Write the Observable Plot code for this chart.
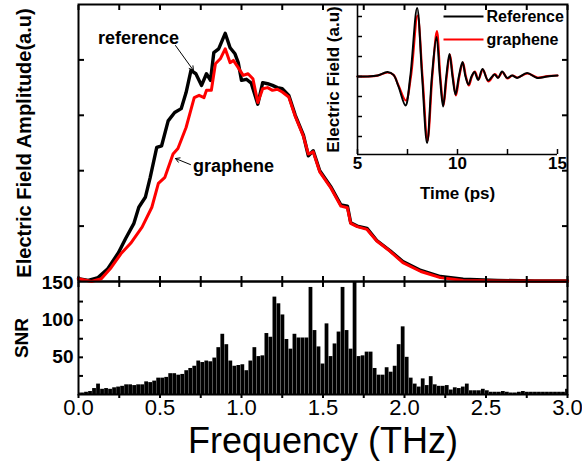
<!DOCTYPE html>
<html><head><meta charset="utf-8">
<script src="https://cdn.jsdelivr.net/npm/d3@7"></script>
<script src="https://cdn.jsdelivr.net/npm/@observablehq/plot@0.6"></script>
<style>
body{margin:0;background:#fff;}
#wrap{position:relative;width:582px;height:465px;overflow:hidden;background:#fff;}
#wrap svg{position:absolute;overflow:visible;}
</style></head><body><div id="wrap"></div>
<script>
// ---- Spectrum (main panel) ----
const refFreq = [0, 0.06, 0.12, 0.18, 0.245, 0.29, 0.34, 0.37, 0.41, 0.44, 0.48, 0.51, 0.55, 0.59, 0.63, 0.66, 0.69, 0.72, 0.755, 0.785, 0.81, 0.83, 0.86, 0.90, 0.93, 0.96, 0.98, 1.0, 1.03, 1.06, 1.10, 1.13, 1.16, 1.19, 1.22, 1.25, 1.29, 1.33, 1.38, 1.41, 1.44, 1.48, 1.55, 1.61, 1.65, 1.67, 1.71, 1.77, 1.83, 1.91, 1.99, 2.10, 2.22, 2.36, 2.57, 2.8, 3.0];
const refAmp = [0.05, 0.02, 0.07, 0.23, 0.52, 0.78, 1.05, 1.34, 1.52, 1.88, 2.42, 2.45, 2.9, 3.05, 3.12, 3.41, 3.81, 3.75, 3.54, 3.75, 3.63, 4.13, 4.2, 4.48, 4.22, 4.11, 3.95, 3.63, 3.65, 3.58, 3.2, 3.59, 3.57, 3.54, 3.5, 3.48, 3.36, 3.0, 2.64, 2.27, 2.36, 2.0, 1.7, 1.38, 1.36, 1.06, 1.0, 0.96, 0.74, 0.56, 0.36, 0.2, 0.09, 0.04, 0.02, 0.01, 0.01];
const grFreq = [0, 0.08, 0.14, 0.20, 0.26, 0.32, 0.39, 0.45, 0.49, 0.53, 0.58, 0.61, 0.66, 0.71, 0.74, 0.77, 0.785, 0.815, 0.84, 0.87, 0.90, 0.93, 0.95, 0.98, 1.01, 1.04, 1.07, 1.10, 1.13, 1.16, 1.19, 1.22, 1.25, 1.29, 1.33, 1.38, 1.41, 1.44, 1.48, 1.55, 1.61, 1.65, 1.67, 1.71, 1.77, 1.83, 1.91, 1.99, 2.10, 2.22, 2.36, 2.57, 2.8, 3.0];
const grAmp = [0.05, 0.0, 0.05, 0.25, 0.5, 0.69, 0.98, 1.34, 1.77, 1.88, 2.3, 2.4, 2.78, 3.32, 3.36, 3.32, 3.45, 3.45, 3.93, 4.02, 4.2, 3.95, 3.99, 3.86, 3.72, 3.75, 3.66, 3.23, 3.48, 3.5, 3.45, 3.47, 3.42, 3.33, 2.98, 2.62, 2.3, 2.34, 1.98, 1.68, 1.36, 1.33, 1.05, 0.99, 0.94, 0.73, 0.55, 0.34, 0.18, 0.07, 0.02, 0.01, 0.01, 0.01];

// annotations (label, text position, arrow start, arrow end) in data units
const annLabels = ["reference", "graphene"];
const annTextF = [0.368, 0.951];
const annTextA = [4.40, 2.08];
const annFromF = [0.595, 0.687];
const annFromA = [4.26, 2.11];
const annToF = [0.705, 0.595];
const annToA = [3.81, 2.22];

// ---- SNR (bottom panel) ----
const snrValues = [2,2,3,4,8,14,7,8,7,9, 10,11,13,13,12,13,13,17,16,18, 22,22,23,28,28,26,27,32,35,38, 45,43,45,44,49,63,81,67,45,38, 39,40,32,45,63,51,52,82,77,131, 122,107,74,61,81,76,76,76,144,86, 64,41,95,51,68,84,144,86,61,155, 51,52,57,57,35,26,26,36,30,38, 67,91,50,22,14,10,21,12,24,13, 11,11,12,6,9,8,10,14,5,5, 5,7,5,3,3,3,4,3,2,2, 3,4,3,3,3,3,3,3,3,3, 3,3,7];
const snrStep = 3 / 122; // frequency spacing of the bins (THz)

// ---- Time-domain inset ----
const refT = [5.0,5.5,6.0,6.5,6.8,7.05,7.4,7.64,7.98,8.23,8.48,8.72,8.95,9.12,9.28,9.44,9.6,9.75,9.9,10.07,10.25,10.4,10.55,10.7,10.85,11.03,11.25,11.53,11.85,12.02,12.23,12.48,12.73,12.98,13.48,13.98,14.48,15.0];
const refE = [0,0,0.05,0.22,0.08,-0.5,-1.45,0,3.43,0,-3.33,0,1.97,0,-1.5,0,1.13,0,-0.9,0,0.72,0,-0.4,0,0.22,-0.17,0.38,-0.2,0.1,-0.07,0.25,-0.07,0.05,-0.07,0.17,-0.07,0,0.05];
const grT = [5.0,5.5,6.0,6.5,6.8,7.05,7.42,7.67,8.0,8.25,8.5,8.74,8.97,9.14,9.3,9.46,9.62,9.77,9.92,10.09,10.27,10.42,10.57,10.72,10.87,11.05,11.27,11.55,11.87,12.04,12.25,12.5,12.75,13.0,13.5,14.0,14.5,15.0];
const grE = [0,0,0.04,0.2,0.08,-0.45,-1.2,0,3.05,0,-3.2,0,2.27,0,-1.45,0,1.1,0,-0.95,0,0.7,0,-0.45,0,0.25,-0.15,0.35,-0.25,0.12,-0.05,0.22,-0.1,0.05,-0.05,0.15,-0.05,0.02,0.05];
const legendLabels = ["Reference", "graphene"];
const legendColors = ["black", "#ff0000"];
const legendE = [3.0, 1.85];

// ---- tick values ----
const freqMajor = [0, 0.5, 1.0, 1.5, 2.0, 2.5, 3.0];
const freqMinor = d3.range(0, 3.001, 0.25);
const ampTicks = [1, 2, 3, 4];
const snrLabelTicks = [50, 100, 150];
const snrMinorTicks = [25, 50, 75, 100, 125];
const timeTicks = [5, 7.5, 10, 12.5, 15];
const timeLabelTicks = [5, 10, 15];
const fieldTicks = [-3, -2, -1, 0, 1, 2, 3];

const FONT = '"Liberation Sans", Arial, Helvetica, sans-serif';
const noText = () => "";
const wrap = document.getElementById("wrap");
function place(svg, left, top) {
  svg.style.left = left + "px"; svg.style.top = top + "px";
  wrap.appendChild(svg);
}

const refData = refFreq.map((f, i) => ({f, a: refAmp[i]}));
const grData = grFreq.map((f, i) => ({f, a: grAmp[i]}));
const annData = annLabels.map((label, i) => ({label, tf: annTextF[i], ta: annTextA[i], f1: annFromF[i], a1: annFromA[i], f2: annToF[i], a2: annToA[i]}));

const main = Plot.plot({
  width: 582, height: 284,
  marginLeft: 78, marginRight: 15, marginTop: 4, marginBottom: 3,
  x: {domain: [0, 3]},
  y: {domain: [0, 5]},
  style: {fontFamily: FONT, background: "transparent", overflow: "visible"},
  marks: [
    Plot.frame({stroke: "black", strokeWidth: 2}),
    Plot.line(refData, {x: "f", y: "a", stroke: "black", strokeWidth: 3.4}),
    Plot.line(grData, {x: "f", y: "a", stroke: "#ff0000", strokeWidth: 3}),
    Plot.axisX(freqMinor, {anchor: "top", tickSize: 5, dy: 5, tickFormat: noText, strokeWidth: 2, label: null}),
    Plot.axisX(freqMinor, {anchor: "bottom", tickSize: 5, dy: -5, tickFormat: noText, strokeWidth: 2, label: null}),
    Plot.axisY(ampTicks, {anchor: "left", tickSize: 6, dx: 6, tickFormat: noText, strokeWidth: 2, label: null}),
    Plot.axisY(ampTicks, {anchor: "right", tickSize: 6, dx: -6, tickFormat: noText, strokeWidth: 2, label: null}),
    Plot.text(["Electric Field Amplitude(a.u)"], {frameAnchor: "left", dx: -54, rotate: -90, text: d => d, textAnchor: "middle", lineAnchor: "middle", fontSize: 20, fontWeight: "bold", fill: "black"}),
    Plot.arrow(annData, {x1: "f1", y1: "a1", x2: "f2", y2: "a2", stroke: "black", strokeWidth: 1, headLength: 7}),
    Plot.text(annData, {x: "tf", y: "ta", text: "label", fontSize: 18, fontWeight: "bold", fill: "black"})
  ]
});
place(main, 0, 0);

const snrData = snrValues.map((s, i) => ({f: i * snrStep, s}));
const hw = snrStep * 0.47;
const snr = Plot.plot({
  width: 582, height: 195,
  marginLeft: 78, marginRight: 15, marginTop: 11, marginBottom: 71,
  x: {domain: [0, 3]},
  y: {domain: [0, 152]},
  style: {fontFamily: FONT, background: "transparent", overflow: "visible"},
  marks: [
    Plot.rect(snrData, {x1: d => d.f - hw, x2: d => d.f + hw, y1: 0, y2: "s", fill: "black", clip: true}),
    Plot.frame({stroke: "black", strokeWidth: 2}),
    Plot.axisX(freqMajor, {anchor: "bottom", tickSize: 0, tickPadding: 5, tickFormat: d3.format(".1f"), fontSize: 22, label: null}),
    Plot.axisX(freqMinor, {anchor: "bottom", tickSize: 4, tickFormat: noText, strokeWidth: 2, label: null}),
    Plot.axisX(freqMinor, {anchor: "top", tickSize: 5, dy: 5, tickFormat: noText, strokeWidth: 2, label: null}),
    Plot.axisY(snrMinorTicks, {anchor: "left", tickSize: 5, dx: 5, tickFormat: noText, strokeWidth: 2, label: null}),
    Plot.axisY(snrMinorTicks, {anchor: "right", tickSize: 5, dx: -5, tickFormat: noText, strokeWidth: 2, label: null}),
    Plot.axisY(snrLabelTicks, {anchor: "left", tickSize: 0, tickPadding: 5, fontSize: 19, fontWeight: "bold", label: null}),
    Plot.text(["SNR"], {frameAnchor: "left", dx: -57, rotate: -90, text: d => d, textAnchor: "middle", lineAnchor: "middle", fontSize: 19, fontWeight: "bold", fill: "black"}),
    Plot.text(["Frequency (THz)"], {frameAnchor: "bottom", dy: 47, text: d => d, textAnchor: "middle", lineAnchor: "middle", fontSize: 36, fill: "black"})
  ]
});
place(snr, 0, 270);

const refTD = refT.map((t, i) => ({t, e: refE[i]}));
const grTD = grT.map((t, i) => ({t, e: grE[i]}));
const legData = legendLabels.map((label, i) => ({label, color: legendColors[i], e: legendE[i]}));
const inset = Plot.plot({
  width: 270, height: 205,
  marginLeft: 57, marginRight: 13, marginTop: 4, marginBottom: 51,
  x: {domain: [5, 15]},
  y: {domain: [-3.9, 3.6]},
  style: {fontFamily: FONT, background: "transparent", overflow: "visible"},
  marks: [
    Plot.line(grTD, {x: "t", y: "e", stroke: "#ff0000", strokeWidth: 2.2, curve: "catmull-rom"}),
    Plot.line(refTD, {x: "t", y: "e", stroke: "black", strokeWidth: 2, curve: "catmull-rom"}),
    Plot.ruleX([5], {stroke: "black", strokeWidth: 1.6}),
    Plot.ruleY([-3.9], {stroke: "black", strokeWidth: 1.6}),
    Plot.axisX(timeTicks, {anchor: "bottom", tickSize: 5, dy: -5, tickFormat: noText, strokeWidth: 1.5, label: null}),
    Plot.axisX(timeLabelTicks, {anchor: "bottom", tickSize: 0, tickPadding: 2, fontSize: 17, fontWeight: "bold", label: null}),
    Plot.axisY(fieldTicks, {anchor: "left", tickSize: 5, dx: 5, tickFormat: noText, strokeWidth: 1.5, label: null}),
    Plot.text(["Electric Field (a.u)"], {frameAnchor: "left", dx: -24, rotate: -90, text: d => d, textAnchor: "middle", lineAnchor: "middle", fontSize: 17, fontWeight: "bold", fill: "black"}),
    Plot.text(["Time (ps)"], {frameAnchor: "bottom", dy: 39, text: d => d, textAnchor: "middle", lineAnchor: "middle", fontSize: 17, fontWeight: "bold", fill: "black"}),
    Plot.link(legData, {x1: () => 9.3, x2: () => 11.3, y1: "e", y2: "e", stroke: "color", strokeWidth: 2}),
    Plot.text(legData, {x: () => 11.45, y: "e", text: "label", textAnchor: "start", fontSize: 16, fontWeight: "bold", fill: "black"})
  ]
});
place(inset, 300, 0);
</script>
</body></html>
